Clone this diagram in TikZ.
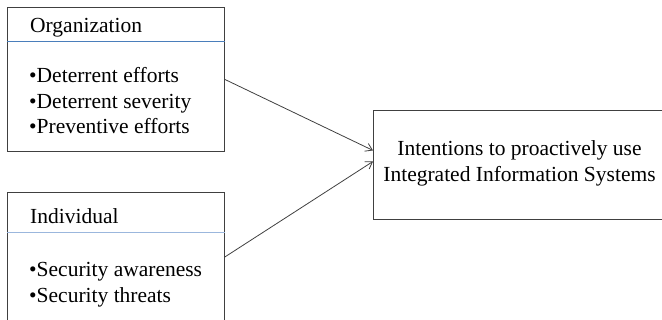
\documentclass[tikz,border=0pt]{standalone}
\usepackage{fontspec}
\setmainfont{Liberation Serif}
\usetikzlibrary{arrows.meta}
\definecolor{boxline}{HTML}{404040}
\definecolor{divA}{HTML}{4A7EBB}
\definecolor{divB}{HTML}{9BB7DD}
\tikzset{
  box/.style={draw=boxline, line width=0.9pt, rectangle, inner sep=0pt, anchor=north west},
  txt/.style={inner sep=0pt, anchor=base west, font=\fontsize{21.5pt}{26pt}\selectfont, text=black},
  conn/.style={draw=boxline, line width=0.8pt, -{Straight Barb[length=6.5pt,width=8.5pt,line width=0.8pt]}}
}
\begin{document}
\begin{tikzpicture}[x=1pt,y=-1pt]
\useasboundingbox (0,0) rectangle (662,320);
\clip (0,0) rectangle (662,320);
\node[box, minimum width=217pt, minimum height=144pt] (org) at (7,7) {};
\node[box, minimum width=217pt, minimum height=129pt] (ind) at (7,192) {};
\node[box, minimum width=300pt, minimum height=109pt] (int) at (373,110) {};
\draw[divA, line width=0.9pt] (org.west |- 0,41.5) coordinate (oa) -- (org.east |- 0,41.5) coordinate (ob);
\draw[divB, line width=0.9pt] (ind.west |- 0,232.5) coordinate (ia) -- (ind.east |- 0,232.5) coordinate (ib);
\node[txt] (orgh) at (30,32.5) {Organization};
\node[txt] (o1) at (29,83) {•Deterrent efforts};
\node[txt] (o2) at (29,108.5) {•Deterrent severity};
\node[txt] (o3) at (29,134) {•Preventive efforts};
\node[txt] (indh) at (30,224) {Individual};
\node[txt] (i1) at (29,277) {•Security awareness};
\node[txt] (i2) at (29,303) {•Security threats};
\node[inner sep=0pt, align=center, font=\fontsize{21.5pt}{26.5pt}\selectfont] (intt) at (519.5,163.5) {Intentions to proactively use\\Integrated Information Systems};
\draw[conn] (org.east) -- ([yshift=14.5pt]int.west);
\draw[conn] (ind.east) -- ([yshift=3.5pt]int.west);
\end{tikzpicture}
\end{document}
